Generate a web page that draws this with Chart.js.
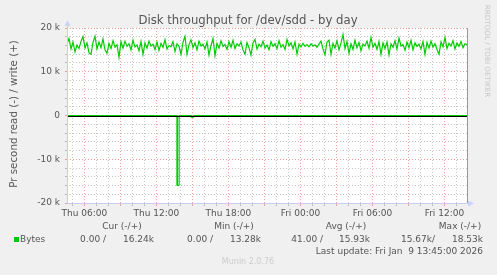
<!DOCTYPE html>
<html>
<head>
<meta charset="utf-8" />
<title>Disk throughput for /dev/sdd - by day</title>
<script src="https://cdn.jsdelivr.net/npm/chart.js@4.4.0/dist/chart.umd.min.js"></script>
<style>
	body { margin: 0; padding: 0; background: #f0f0f0; }
	#wrap { width: 497px; height: 275px; }
</style>
</head>
<body>
<div id="wrap"><canvas id="chart" width="497" height="275"></canvas></div>

<script>

// minutes since Thu 00:00
var xMin = 273;
var xMax = 2273;

// write (+), k bytes per second, one sample per 10 minutes
var writeStart = 273;
var writeStep = 10;
var writeValues = [
	16.4, 17.6, 15.2, 16.8, 14.5, 16.1, 15.3, 16.9, 18.0, 15.4, 16.6, 14.3, 14.0, 16.7, 18.1, 15.2, 16.8, 15.5, 17.5, 15.0,
	14.2, 16.5, 15.3, 17.1, 15.6, 16.2, 13.3, 16.9, 15.4, 17.0, 15.8, 16.4, 15.0, 17.2, 15.7, 16.1, 14.8, 16.9, 14.0, 16.6,
	15.4, 17.0, 15.9, 16.3, 15.1, 16.8, 14.9, 16.5, 15.6, 17.3, 15.2, 16.0, 15.7, 16.9, 14.6, 16.4, 15.8, 14.0, 16.7, 18.1,
	14.0, 16.2, 17.3, 15.5, 16.6, 15.0, 17.0, 15.9, 16.3, 15.2, 16.8, 13.8, 16.0, 17.6, 13.7, 16.5, 15.4, 17.1, 15.8, 16.2,
	15.1, 16.9, 15.6, 17.2, 15.3, 16.4, 15.9, 16.8, 15.0, 14.0, 16.7, 15.5, 13.8, 16.6, 17.4, 15.2, 16.3, 15.7, 17.0, 15.4,
	16.1, 15.0, 16.9, 15.8, 16.4, 15.3, 17.1, 15.6, 16.2, 15.1, 17.4, 15.9, 16.6, 15.2, 16.8, 14.0, 16.3, 15.7, 16.5, 15.8,
	16.2, 15.7, 16.4, 15.9, 16.1, 15.6, 16.3, 17.0, 15.2, 13.9, 16.8, 17.2, 14.0, 16.5, 15.4, 17.1, 15.0, 16.6, 18.5, 15.3,
	16.9, 14.2, 16.4, 15.1, 17.2, 15.5, 16.7, 14.8, 16.3, 15.9, 17.0, 15.4, 17.8, 15.6, 16.5, 15.1, 16.9, 14.0, 16.6, 15.3,
	16.8, 13.8, 16.4, 15.6, 17.1, 15.2, 17.7, 15.9, 16.2, 14.9, 16.8, 15.5, 17.2, 15.0, 16.6, 15.8, 16.3, 15.2, 16.9, 14.0,
	16.7, 15.4, 17.0, 15.6, 16.4, 15.1, 14.0, 16.8, 15.7, 17.8, 15.3, 16.5, 15.9, 17.1, 15.2, 16.6, 15.8, 16.9, 15.5, 16.4, 16.2
];

// read (-), shown negative
var readTimes = [273, 824, 824, 834, 834, 895, 895, 905, 905, 2273];
var readValues = [0, 0, -16, -16, 0, 0, -0.4, -0.4, 0, 0];

var xTickAt = [360, 720, 1080, 1440, 1800, 2160];
var xTickLabels = ['Thu 06:00', 'Thu 12:00', 'Thu 18:00', 'Fri 00:00', 'Fri 06:00', 'Fri 12:00'];
var yTickAt = [-20, -10, 0, 10, 20];
var yTickLabels = ['-20 k', '-10 k', '0', '10 k', '20 k'];

var legendHeads = ['Cur (-/+)', 'Min (-/+)', 'Avg (-/+)', 'Max (-/+)'];
var legendName = 'Bytes';
var legendValues = ['0.00 /', '16.24k', '0.00 /', '13.28k', '41.00 /', '15.93k', '15.67k/', '18.53k'];
var lastUpdate = 'Last update: Fri Jan  9 13:45:00 2026';

var FONT = 'DejaVu Sans';
var TXT = '#555';
var GREEN = '#00cc00';
var RED_GRID = 'rgba(235,110,110,0.65)';
var GRAY_GRID = 'rgba(0,0,0,0.22)';

var writeData = writeValues.map(function (v, i) { return {x: writeStart + i * writeStep, y: v}; });
var readData = readValues.map(function (v, i) { return {x: readTimes[i], y: v}; });

var munin = {
	id: 'munin',
	beforeDraw: function (chart) {
		var ctx = chart.ctx, a = chart.chartArea;
		ctx.save();
		ctx.fillStyle = '#f0f0f0';
		ctx.fillRect(0, 0, chart.width, chart.height);
		ctx.fillStyle = '#fff';
		ctx.fillRect(a.left, a.top, a.right - a.left, a.bottom - a.top);
		ctx.restore();
	},
	afterDatasetsDraw: function (chart) {
		var ctx = chart.ctx, a = chart.chartArea;
		var y0 = Math.round(chart.scales.y.getPixelForValue(0)) + 0.5;
		ctx.save();
		ctx.strokeStyle = '#000';
		ctx.lineWidth = 1;
		ctx.beginPath();
		ctx.moveTo(a.left, y0);
		ctx.lineTo(a.right, y0);
		ctx.stroke();
		ctx.restore();
	},
	afterDraw: function (chart) {
		var ctx = chart.ctx, a = chart.chartArea;
		ctx.save();

		// right frame
		ctx.strokeStyle = '#999';
		ctx.lineWidth = 1;
		ctx.beginPath();
		ctx.moveTo(a.right + 0.5, a.top);
		ctx.lineTo(a.right + 0.5, a.bottom);
		ctx.stroke();

		// axes with arrows
		ctx.strokeStyle = 'rgb(200,205,240)';
		ctx.fillStyle = 'rgb(200,212,255)';
		ctx.beginPath();
		ctx.moveTo(a.left + 0.5, a.bottom);
		ctx.lineTo(a.left + 0.5, a.top - 4);
		ctx.moveTo(a.left, a.bottom + 0.5);
		ctx.lineTo(a.right + 3, a.bottom + 0.5);
		ctx.stroke();
		ctx.beginPath();
		ctx.moveTo(a.left + 0.5, a.top - 8);
		ctx.lineTo(a.left - 2.5, a.top - 2);
		ctx.lineTo(a.left + 3.5, a.top - 2);
		ctx.closePath();
		ctx.fill();
		ctx.beginPath();
		ctx.moveTo(a.right + 7, a.bottom + 0.5);
		ctx.lineTo(a.right + 1, a.bottom - 2.5);
		ctx.lineTo(a.right + 1, a.bottom + 3.5);
		ctx.closePath();
		ctx.fill();

		// title
		ctx.fillStyle = TXT;
		ctx.textBaseline = 'middle';
		ctx.textAlign = 'center';
		ctx.font = '11.7px "' + FONT + '"';
		ctx.fillText('Disk throughput for /dev/sdd - by day', 248, 21);

		// y title
		ctx.save();
		ctx.translate(14, 114);
		ctx.rotate(-Math.PI / 2);
		ctx.font = '10.3px "' + FONT + '"';
		ctx.fillText('Pr second read (-) / write (+)', 0, 0);
		ctx.restore();

		// rrdtool tag
		ctx.save();
		ctx.translate(487, 51);
		ctx.rotate(Math.PI / 2);
		ctx.fillStyle = '#c8c8c8';
		ctx.font = '7.2px "' + FONT + '"';
		ctx.fillText('RRDTOOL / TOBI OETIKER', 0, 0);
		ctx.restore();

		// legend
		ctx.font = '9px "' + FONT + '"';
		var headX = [122, 234, 346, 460];
		legendHeads.forEach(function (h, i) { ctx.fillText(h, headX[i], 227); });

		ctx.fillStyle = GREEN;
		ctx.fillRect(14, 237, 5, 5);
		ctx.fillStyle = TXT;
		ctx.textAlign = 'left';
		ctx.fillText(legendName, 20, 239.5);

		ctx.textAlign = 'right';
		var valX = [106, 154, 213, 261, 323, 370, 435, 483];
		legendValues.forEach(function (v, i) { ctx.fillText(v, valX[i], 239.5); });
		ctx.fillText(lastUpdate, 483, 251.5);

		ctx.textAlign = 'center';
		ctx.fillStyle = '#cccccc';
		ctx.font = '8px "' + FONT + '"';
		ctx.fillText('Munin 2.0.76', 248, 262);

		ctx.restore();
	}
};

var chart = new Chart(document.getElementById('chart'), {
	type: 'line',
	data: {
		datasets: [
			{
				label: 'write',
				data: writeData,
				borderColor: GREEN,
				borderWidth: 1.2,
				pointRadius: 0,
				tension: 0,
				fill: false
			},
			{
				label: 'read',
				data: readData,
				borderColor: GREEN,
				backgroundColor: 'rgba(0,204,0,0.25)',
				borderWidth: 1,
				pointRadius: 0,
				tension: 0,
				fill: 'origin'
			}
		]
	},
	options: {
		responsive: false,
		animation: false,
		devicePixelRatio: 1,
		layout: { padding: { top: 28, right: 30, bottom: 52, left: 0 } },
		plugins: {
			legend: { display: false },
			title: { display: false },
			tooltip: { enabled: false }
		},
		scales: {
			x: {
				type: 'linear',
				min: xMin,
				max: xMax,
				afterFit: function (s) { s.height = 20; },
				ticks: {
					stepSize: 60,
					includeBounds: false,
					autoSkip: false,
					maxRotation: 0,
					padding: 2,
					color: TXT,
					font: { family: FONT, size: 9 },
					callback: function (v) {
						var k = xTickAt.indexOf(v);
						return k >= 0 ? xTickLabels[k] : '';
					}
				},
				grid: {
					lineWidth: 1,
					tickLength: 3,
					color: function (c) { return c.tick && c.tick.value % 180 === 0 ? RED_GRID : GRAY_GRID; },
					tickColor: function (c) { return c.tick && c.tick.value % 180 === 0 ? RED_GRID : GRAY_GRID; }
				},
				border: { display: false, dash: [1, 2] }
			},
			y: {
				min: -20,
				max: 20,
				afterFit: function (s) { s.width = 67; },
				ticks: {
					stepSize: 2,
					autoSkip: false,
					padding: 5,
					color: TXT,
					font: { family: FONT, size: 9 },
					callback: function (v) {
						var k = yTickAt.indexOf(v);
						return k >= 0 ? yTickLabels[k] : '';
					}
				},
				grid: {
					lineWidth: 1,
					tickLength: 2,
					color: function (c) { return c.tick && c.tick.value % 10 === 0 ? RED_GRID : GRAY_GRID; },
					tickColor: function (c) { return c.tick && c.tick.value % 10 === 0 ? RED_GRID : GRAY_GRID; }
				},
				border: { display: false, dash: [1, 2] }
			}
		}
	},
	plugins: [munin]
});

</script>
</body>
</html>
